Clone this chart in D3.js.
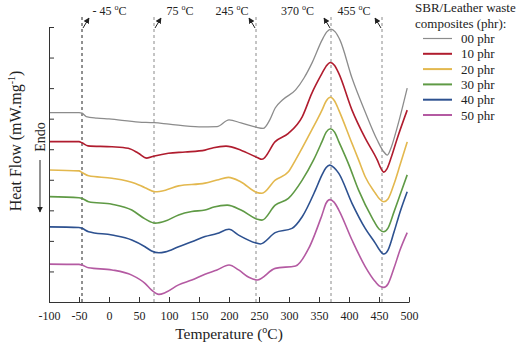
<!DOCTYPE html>
<html>
<head>
<meta charset="utf-8">
<script src="https://cdn.jsdelivr.net/npm/d3@7"></script>
<style>
  body { margin: 0; background: #fff; }
  text { font-family: "Liberation Serif", "Times New Roman", serif; fill: #222; }
</style>
</head>
<body>
<div id="chart"></div>
<script>
// DSC curves, [temperature °C, heat flow (arbitrary, shifted)]
const phr00 = [[-100,6.20],[-50,6.20],[-45,6.18],[-38,6.07],[-20,6.02],[0,5.99],[50,5.89],[75,5.87],[100,5.82],[150,5.73],[180,5.74],[200,5.96],[220,5.86],[245,5.72],[257,5.68],[268,5.96],[277,6.35],[289,6.61],[311,6.94],[325,7.33],[339,7.85],[355,8.57],[363,8.84],[370,8.93],[377,8.84],[385,8.57],[405,7.33],[427,6.22],[447,5.30],[457,4.94],[464,4.81],[470,5.04],[480,5.69],[497,7.00]];
const phr10 = [[-100,5.25],[-50,5.25],[-45,5.21],[-35,5.11],[5,5.08],[32,5.03],[49,4.87],[63,4.71],[76,4.78],[99,4.87],[127,4.91],[160,4.97],[174,5.05],[195,5.10],[220,4.97],[247,4.73],[255,4.67],[277,5.25],[299,5.52],[322,6.06],[338,6.83],[355,7.48],[362,7.72],[369,7.84],[376,7.74],[383,7.48],[405,6.28],[427,5.36],[447,4.65],[453,4.38],[458,4.25],[463,4.35],[470,4.71],[480,5.33],[497,6.28]];
const phr20 = [[-100,4.32],[-50,4.29],[-45,4.24],[-34,4.13],[5,4.05],[44,3.88],[60,3.74],[77,3.61],[94,3.66],[116,3.80],[160,3.89],[180,3.99],[199,4.08],[220,3.93],[247,3.58],[255,3.56],[277,3.99],[299,4.26],[311,4.65],[338,5.63],[355,6.28],[362,6.58],[369,6.70],[376,6.58],[383,6.28],[405,5.19],[416,4.65],[427,4.10],[444,3.56],[451,3.37],[458,3.28],[465,3.37],[475,3.86],[485,4.48],[497,5.24]];
const phr30 = [[-100,3.45],[-50,3.41],[-45,3.39],[-34,3.28],[5,3.20],[38,3.01],[60,2.72],[77,2.58],[94,2.65],[116,2.85],[138,2.96],[160,3.01],[175,3.11],[197,3.17],[220,3.01],[247,2.71],[255,2.68],[277,3.17],[299,3.39],[322,3.99],[341,4.65],[355,5.25],[362,5.56],[369,5.67],[376,5.56],[383,5.25],[400,4.48],[416,3.66],[439,2.74],[450,2.39],[458,2.30],[465,2.42],[475,2.95],[485,3.50],[497,4.16]];
const phr40 = [[-100,2.46],[-50,2.44],[-45,2.41],[-34,2.30],[5,2.19],[38,2.03],[60,1.81],[71,1.67],[83,1.61],[94,1.64],[116,1.81],[138,1.97],[160,2.14],[180,2.24],[200,2.38],[216,2.19],[247,1.92],[252,1.90],[277,2.27],[305,2.41],[322,2.79],[344,3.66],[355,4.16],[362,4.40],[368,4.48],[375,4.40],[383,4.21],[405,3.23],[427,2.41],[444,1.92],[451,1.70],[458,1.57],[465,1.70],[475,2.29],[485,2.94],[497,3.61]];
const phr50 = [[-100,1.24],[-50,1.23],[-45,1.21],[-34,1.12],[5,1.05],[38,0.88],[60,0.61],[71,0.39],[83,0.25],[94,0.31],[116,0.56],[138,0.72],[160,0.91],[180,1.05],[200,1.21],[216,1.05],[233,0.81],[247,0.72],[277,1.10],[311,1.18],[333,1.76],[355,2.85],[362,3.24],[368,3.35],[375,3.27],[383,3.01],[405,2.03],[427,1.16],[444,0.66],[451,0.52],[458,0.48],[465,0.59],[475,1.11],[485,1.70],[497,2.27]];

const seriesNames = ['00 phr', '10 phr', '20 phr', '30 phr', '40 phr', '50 phr'];
const seriesData = [phr00, phr10, phr20, phr30, phr40, phr50];
const seriesColors = ['#8c8c8c', '#b01c2e', '#e3b84e', '#5f9a45', '#2d5190', '#b45aa2'];

const xTicks = [-100, -50, 0, 50, 100, 150, 200, 250, 300, 350, 400, 450, 500];
const yTicks = [0, 1, 2, 3, 4, 5, 6, 7, 8, 9];

// marked transition temperatures
const markTemps = [-45, 75, 245, 370, 455];
const markLabels = ['- 45 ', '75 ', '245 ', '370 ', '455 '];

const width = 518, height = 352;
const svg = d3.select('#chart').append('svg')
    .attr('width', width).attr('height', height);

const x = d3.scaleLinear().domain([-100, 500]).range([49, 409]);
const y = d3.scaleLinear().domain([0, 9]).range([302, 27]);

const defs = svg.append('defs');
defs.append('marker')
    .attr('id', 'head')
    .attr('viewBox', '0 0 10 10')
    .attr('refX', 9).attr('refY', 5)
    .attr('markerWidth', 6).attr('markerHeight', 6)
    .attr('markerUnits', 'userSpaceOnUse')
    .attr('orient', 'auto')
    .append('path').attr('d', 'M0,0L10,5L0,10z').attr('fill', '#222');

// dashed marker lines
const lineTop = y.range()[1] - 10;
svg.selectAll('.mark')
    .data(markTemps)
    .enter()
    .append('line')
    .attr('class', 'mark')
    .attr('x1', (d) => x(d)).attr('x2', (d) => x(d))
    .attr('y1', lineTop).attr('y2', y(0))
    .attr('stroke', (d) => (d < 0 ? '#222' : '#8a8a8a'))
    .attr('stroke-width', 1)
    .attr('stroke-dasharray', '3,3');

// small arrows and labels above the lines
const labelOffsets = [10.5, 12.5, -7.5, -17, -11.5];
markTemps.forEach((t, i) => {
    const dir = t < 100 ? 1 : -1;
    const x0 = x(t);
    svg.append('line')
        .attr('x1', x0 + dir).attr('y1', 28)
        .attr('x2', x0 + dir * 7).attr('y2', 18)
        .attr('stroke', '#222').attr('stroke-width', 1)
        .attr('marker-end', 'url(#head)');
    const lbl = svg.append('text')
        .attr('x', x0 + labelOffsets[i])
        .attr('y', 14.5)
        .style('font-size', '12px')
        .attr('text-anchor', dir > 0 ? 'start' : 'end');
    lbl.append('tspan').text(markLabels[i]);
    lbl.append('tspan').attr('dy', -5).style('font-size', '8px').text('o');
    lbl.append('tspan').attr('dy', 5).text('C');
});

// curves
const line = d3.line()
    .x((d) => x(d[0]))
    .y((d) => y(d[1]))
    .curve(d3.curveMonotoneX);

svg.selectAll('.curve')
    .data(seriesData)
    .enter()
    .append('path')
    .attr('class', 'curve')
    .attr('fill', 'none')
    .attr('stroke', (d, i) => seriesColors[i])
    .attr('stroke-width', (d, i) => (i === 0 ? 1.3 : 1.6))
    .attr('d', line);

// axes
const xAxis = d3.axisBottom(x).tickValues(xTicks)
    .tickSizeInner(-5).tickSizeOuter(0).tickPadding(9)
    .tickFormat((d) => String(d));
const yAxis = d3.axisLeft(y).tickValues(yTicks)
    .tickSizeInner(-5).tickSizeOuter(0).tickFormat('');

const gx = svg.append('g')
    .attr('transform', 'translate(0,' + y(0) + ')')
    .call(xAxis);
gx.selectAll('text').style('font-size', '12px')
    .style('font-family', '"Liberation Serif", serif').attr('fill', '#222');
gx.selectAll('line, path').attr('stroke', '#333');

const gy = svg.append('g')
    .attr('transform', 'translate(' + x(-100) + ',0)')
    .call(yAxis);
gy.selectAll('line, path').attr('stroke', '#333');

// axis titles
const xt = svg.append('text')
    .attr('x', 229).attr('y', 338.5)
    .attr('text-anchor', 'middle')
    .style('font-size', '15.5px');
xt.append('tspan').text('Temperature (');
xt.append('tspan').attr('dy', -6).style('font-size', '10px').text('o');
xt.append('tspan').attr('dy', 6).text('C)');

const yt = svg.append('text')
    .attr('transform', 'translate(21,141) rotate(-90)')
    .attr('text-anchor', 'middle')
    .style('font-size', '16px');
yt.append('tspan').text('Heat Flow (mW.mg');
yt.append('tspan').attr('dy', -6).style('font-size', '10px').text('-1');
yt.append('tspan').attr('dy', 6).text(')');

svg.append('text')
    .attr('transform', 'translate(45,137) rotate(-90)')
    .attr('text-anchor', 'middle')
    .style('font-size', '14px')
    .text('Endo');

svg.append('line')
    .attr('x1', 40).attr('y1', 160)
    .attr('x2', 40).attr('y2', 212)
    .attr('stroke', '#222').attr('stroke-width', 1)
    .attr('marker-end', 'url(#head)');

// legend
svg.append('text').attr('x', 415).attr('y', 12).style('font-size', '13px')
    .text('SBR/Leather waste');
svg.append('text').attr('x', 415).attr('y', 28).style('font-size', '13px')
    .text('composites (phr):');

const leg = svg.selectAll('.leg')
    .data(seriesNames)
    .enter()
    .append('g')
    .attr('class', 'leg')
    .attr('transform', (d, i) => 'translate(0,' + (38.5 + i * 15.3) + ')');

leg.append('line')
    .attr('x1', 423).attr('x2', 452)
    .attr('stroke', (d, i) => seriesColors[i])
    .attr('stroke-width', (d, i) => (i === 0 ? 1.2 : 2));

leg.append('text')
    .attr('x', 461).attr('dy', '0.35em')
    .style('font-size', '13px')
    .text((d) => d);
</script>
</body>
</html>
